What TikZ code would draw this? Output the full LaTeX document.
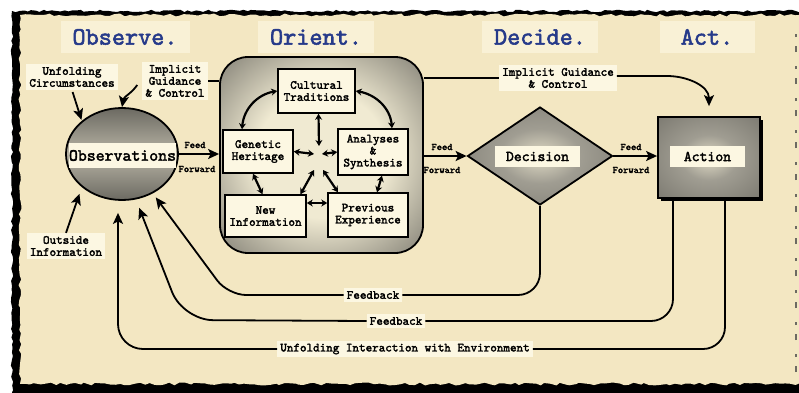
\documentclass[tikz,border=0pt]{standalone}
\usepackage{fontspec}
\newfontfamily\slab{lmmono10-regular.otf}[FakeBold=2.2]
\usepackage{tikz}
\usetikzlibrary{arrows.meta,shapes.geometric,shadows,decorations.pathmorphing}
\definecolor{paper}{RGB}{243,231,194}
\definecolor{titlebg}{RGB}{249,241,214}
\definecolor{labelbg}{RGB}{252,247,226}
\definecolor{ttlblue}{RGB}{38,58,138}
\definecolor{shadedark}{RGB}{108,106,98}
\definecolor{shademid}{RGB}{160,157,146}
\definecolor{shadelight}{RGB}{240,234,210}
\pgfdeclareradialshading{orientglow}{\pgfpointorigin}{color(0bp)=(shadelight); color(16bp)=(shadelight); color(40bp)=(shadedark); color(50bp)=(shadedark)}
\pgfdeclareradialshading{boxglow}{\pgfpointorigin}{color(0bp)=(shadelight!80!shademid); color(14bp)=(shademid); color(46bp)=(shadedark); color(50bp)=(shadedark)}

\begin{document}
\begin{tikzpicture}[x=1pt,y=1pt,
  ttl/.style={fill=titlebg, text=ttlblue, font=\fontsize{25}{25}\slab,
    inner xsep=12pt, minimum width=95pt, minimum height=32pt},
  lbl/.style={fill=labelbg, align=center, inner sep=3pt, font=\fontsize{12.5}{12}\slab},
  obox/.style={draw, line width=1.5pt, fill=labelbg, align=center, inner sep=1pt,
    font=\fontsize{12.5}{12}\slab},
  ff/.style={font=\fontsize{10}{10}\slab, inner sep=1pt},
  wire/.style={line width=1.8pt},
  flow/.style={line width=1.8pt, -{Stealth[length=11pt,width=10pt,inset=2.5pt]}},
  dbl/.style={line width=2.2pt, {Stealth[length=6pt,width=7pt]}-{Stealth[length=6pt,width=7pt]}},
]
\useasboundingbox (0,0) rectangle (799,392);
\fill[white] (0,0) rectangle (799,392);
% torn paper
\pgfmathsetseed{5}
\fill[black, decorate, decoration={random steps,segment length=4pt,amplitude=1.2pt}]
  (12,-5) -- (12,381) -- (810,381) -- (810,-5) -- cycle;
\fill[paper, decorate, decoration={random steps,segment length=5pt,amplitude=1.5pt}]
  (20,8) -- (20,377) -- (810,377) -- (810,8) -- cycle;
\draw[shadedark, line width=1.5pt, dash pattern=on 6pt off 9pt on 3pt off 14pt] (796,20) -- (796,370);
%
\node[ttl] (tobs) at (125,355) {Observe.};
\node[ttl] (tori) at (316,355) {Orient.};
\node[ttl] (tdec) at (540,355) {Decide.};
\node[ttl] (tact) at (707,355) {Act.};
%
\node[draw, line width=1.8pt, rounded corners=28pt, minimum width=203pt, minimum height=196pt,
  shading=orientglow] (orient) at (321.5,237) {};
\node[ellipse, draw, line width=1.8pt, minimum width=112pt, minimum height=92pt,
  top color=shadedark, bottom color=shadedark, middle color=shademid!70!shadelight] (obs) at (122,238) {};
\node[diamond, draw, line width=1.8pt, inner sep=0pt, minimum width=145pt, minimum height=98pt,
  shading=boxglow] (dec) at (540,236) {};
\node[draw, line width=1.8pt, minimum width=102pt, minimum height=81pt, shading=boxglow,
  drop shadow={shadow xshift=2.5pt, shadow yshift=-2.5pt, fill=black, opacity=1}] (act) at (709,234.5) {};
%
\node[lbl, minimum width=106pt, minimum height=25pt, inner sep=0pt,
  font=\fontsize{17}{17}\slab] (obstxt) at (122.5,236.5) {Observations};
\node[lbl, minimum width=85pt, minimum height=21pt, inner sep=0pt,
  font=\fontsize{15}{15}\slab] (dectxt) at (537.5,235.5) {Decision};
\node[lbl, minimum width=75pt, minimum height=21pt, inner sep=0pt,
  font=\fontsize{15}{15}\slab] (acttxt) at (707.5,235.5) {Action};
%
\node[obox, minimum width=77pt, minimum height=44pt] (cult) at (316.5,301) {Cultural\\Traditions};
\node[obox, minimum width=70pt, minimum height=43pt] (gen) at (258,240.5) {Genetic\\Heritage};
\node[obox, minimum width=70pt, minimum height=46pt] (ana) at (373,240) {Analyses\\\&\\Synthesis};
\node[obox, minimum width=81pt, minimum height=42pt] (new) at (265.5,176) {New\\Information};
\node[obox, minimum width=80pt, minimum height=44pt] (prev) at (368,177) {Previous\\Experience};
\coordinate (hub) at (318,236);
%
\draw[dbl] (cult.west) to[out=190,in=85] ([xshift=-16pt]gen.north);
\draw[dbl] (cult.east) to[out=-10,in=95] ([xshift=19pt]ana.north);
\draw[dbl] ([xshift=2pt]cult.south) -- ([shift={(1pt,10pt)}]hub);
\draw[dbl] (gen.east) -- ([shift={(-4pt,2pt)}]hub);
\draw[dbl] (ana.west) -- ([shift={(4pt,2pt)}]hub);
\draw[dbl] ([xshift=35pt]new.north) -- ([shift={(-4pt,-14pt)}]hub);
\draw[dbl] ([xshift=-30pt]prev.north) -- ([shift={(5pt,-14pt)}]hub);
\draw[dbl] ([xshift=-5pt]gen.south) -- ([xshift=-3pt]new.north);
\draw[dbl] ([xshift=9pt]ana.south) -- ([xshift=9pt]prev.north);
\draw[dbl] ([yshift=13pt]new.east) -- ([yshift=12pt]prev.west);
%
\node[lbl] (unfold) at (72,315) {Unfolding\\Circumstances};
\node[lbl] (implL) at (175,311) {Implicit\\Guidance\\\& Control};
\node[lbl] (outside) at (66,146) {Outside\\Information};
\node[lbl] (implR) at (558,314) {Implicit Guidance\\\& Control};
\node[lbl] (fb1) at (373,97) {Feedback};
\node[lbl] (fb2) at (396,71) {Feedback};
\node[lbl] (ui) at (405,43) {Unfolding Interaction with Environment};
%
\node[ff] (feed1) at (195,247) {Feed};
\node[ff] (fwd1) at (197,223) {Forward};
\node[ff] (feed2) at (442,245) {Feed};
\node[ff] (fwd2) at (442,222) {Forward};
\node[ff] (feed3) at (631,245) {Feed};
\node[ff] (fwd3) at (631,222) {Forward};
%
\draw[flow] (obs.east) -- (obs.east -| orient.west);
\draw[flow] (orient.east |- dec.west) -- (dec.west);
\draw[flow] (dec.east) -- (dec.east -| act.west);
%
\draw[flow, shorten <=2pt, shorten >=1pt] (unfold.south) -- (obs.north west);
\draw[flow, shorten >=7pt] (outside.north) -- (obs.south west);
\draw[wire] (orient.west |- implL.east) -- (implL.east);
\draw[flow] ([shift={(-5pt,-4pt)}]implL.west) to[out=235,in=80] (obs.north);
\draw[wire] (orient.east |- implR.west) -- (implR.west);
\draw[flow] ([yshift=2pt]implR.east) -- ++(50,0) to[out=0,in=90] ([yshift=10pt]act.north);
%
\draw[wire, rounded corners=22pt] (dec.south) |- (fb1.east);
\draw[flow, rounded corners=18pt, shorten >=5pt] (fb1.west) -- (228,97) -- (obs.-52);
\draw[wire, rounded corners=22pt] ([xshift=-36pt]act.south) |- (fb2.east);
\draw[flow, rounded corners=30pt, shorten >=9pt] (fb2.west) -- (183,72) -- (obs.-73.5);
\draw[wire, rounded corners=22pt] ([xshift=16pt]act.south) |- (ui.east);
\draw[flow, rounded corners=25pt] (ui.west) -| ([shift={(-4pt,-12pt)}]obs.south);
\end{tikzpicture}
\end{document}
